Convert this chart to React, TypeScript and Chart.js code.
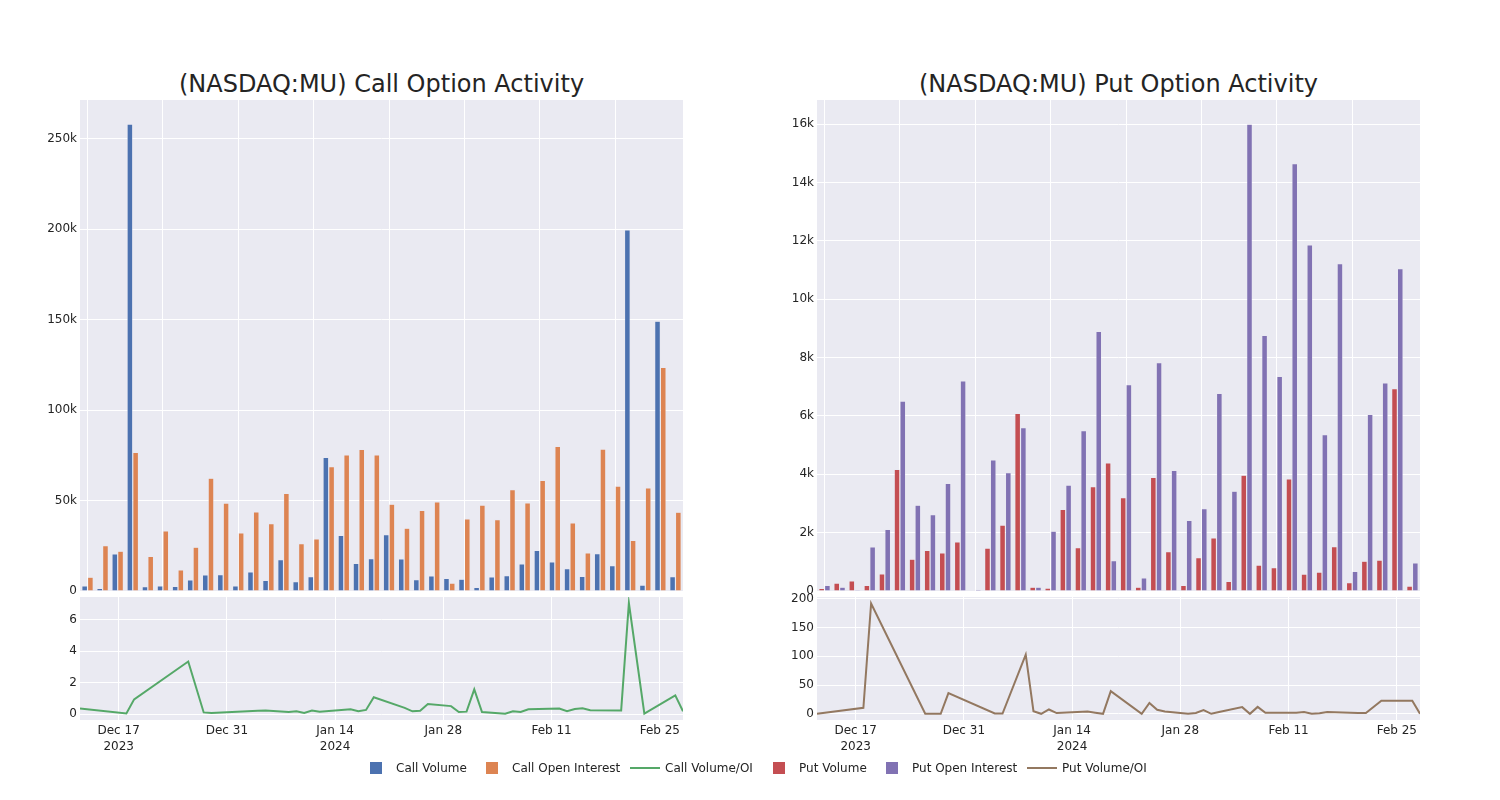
import React, { useEffect, useRef } from 'react';
import { Chart, registerables } from 'chart.js';

Chart.register(...registerables);

// ---------- data ----------
const dates = [
  '2023-12-12', '2023-12-18', '2023-12-19', '2023-12-26', '2023-12-28', '2023-12-29',
  '2024-01-04', '2024-01-05', '2024-01-08', '2024-01-09', '2024-01-10', '2024-01-11',
  '2024-01-12', '2024-01-16', '2024-01-17', '2024-01-18', '2024-01-19', '2024-01-23',
  '2024-01-24', '2024-01-25', '2024-01-26', '2024-01-29', '2024-01-30', '2024-01-31',
  '2024-02-01', '2024-02-02', '2024-02-05', '2024-02-06', '2024-02-07', '2024-02-08',
  '2024-02-12', '2024-02-13', '2024-02-14', '2024-02-15', '2024-02-16', '2024-02-20',
  '2024-02-21', '2024-02-23', '2024-02-27', '2024-02-28',
];

const callVolume = [
  2800, 1500, 20500, 258200, 2400, 2800, 2600, 6100, 8900, 9100,
  2800, 10500, 5900, 17400, 5200, 8000, 73900, 30700, 15300, 17900,
  31200, 17700, 6300, 8300, 7000, 6500, 2000, 7800, 8500, 15000,
  22500, 16100, 12400, 8100, 20700, 14000, 199700, 3300, 149200, 8000,
];
const callOpenInterest = [
  7600, 25100, 22000, 76600, 19200, 33200, 11600, 24200, 62400, 48600,
  32100, 43700, 37300, 53900, 26200, 28800, 68700, 75300, 78300, 75300,
  48000, 34700, 44500, 49300, 4400, 39900, 47500, 39500, 56000, 48700,
  61100, 80000, 37700, 21000, 78500, 58000, 28000, 57000, 123700, 43600,
];
const callVolumeOI = [
  0.37, 0.05, 0.95, 3.35, 0.12, 0.08, 0.22, 0.25, 0.14, 0.19,
  0.09, 0.24, 0.16, 0.32, 0.2, 0.28, 1.08, 0.41, 0.19, 0.23,
  0.65, 0.52, 0.15, 0.17, 1.58, 0.15, 0.04, 0.19, 0.15, 0.32,
  0.37, 0.2, 0.34, 0.39, 0.26, 0.25, 7.06, 0.05, 1.2, 0.19,
];

const putVolume = [
  90, 270, 350, 190, 590, 4170, 1090, 1390, 1310, 1680,
  20, 1470, 2260, 6090, 130, 100, 2800, 1490, 3580, 4390,
  3200, 130, 3890, 1350, 190, 1140, 1820, 330, 3970, 890,
  800, 3840, 580, 650, 1520, 290, 1020, 1060, 6940, 170,
];
const putOpenInterest = [
  190, 130, 2, 1510, 2110, 6510, 2940, 2620, 3690, 7200,
  50, 4490, 4060, 5600, 130, 2050, 3630, 5500, 8900, 1040,
  7070, 450, 7830, 4130, 2420, 2820, 6770, 3420, 16000, 8760,
  7360, 14650, 11860, 5360, 11220, 670, 6050, 7130, 11050, 960,
];
const putVolumeOI = [
  0, 10.5, 192, 0, 0, 36, 0.5, 0.5, 103, 4.6,
  0, 7.5, 1.2, 4, 2, 0, 39.5, 0, 19, 7,
  4, 0, 1.5, 6.4, 0, 3, 11.6, 0, 12, 1.7,
  1.7, 3, 0, 1, 3, 1.5, 1.5, 22.7, 22.7, 0,
];

const callBarTicks = [0, 50000, 100000, 150000, 200000, 250000];
const putBarTicks = [0, 2000, 4000, 6000, 8000, 10000, 12000, 14000, 16000];
const callRatioTicks = [0, 2, 4, 6];
const putRatioTicks = [0, 50, 100, 150, 200];
const dateTickDates = ['2023-12-17', '2023-12-31', '2024-01-14', '2024-01-28', '2024-02-11', '2024-02-25'];
const dateTickLabels: (string | string[])[] = [['Dec 17', '2023'], 'Dec 31', ['Jan 14', '2024'], 'Jan 28', 'Feb 11', 'Feb 25'];

// ---------- style ----------
const FONT = "'DejaVu Sans', sans-serif";
const TEXT = '#242424';
const BG = '#EAEAF2';
const C_BLUE = '#4C72B0';
const C_ORANGE = '#DD8452';
const C_GREEN = '#55A868';
const C_RED = '#C44E52';
const C_PURPLE = '#8172B3';
const C_BROWN = '#937860';

const dayNum = (s: string) => {
  const [y, m, d] = s.split('-').map(Number);
  return Date.UTC(y, m - 1, d) / 86400000;
};

const bgPlugin = {
  id: 'plotBg',
  beforeDraw(chart: any) {
    const { ctx, chartArea: a } = chart;
    ctx.save();
    ctx.fillStyle = BG;
    ctx.fillRect(a.left, a.top, a.right - a.left, a.bottom - a.top);
    ctx.restore();
  },
};

const fmtK = (v: any) => (Number(v) === 0 ? '0' : `${Number(v) / 1000}k`);

function barConfig(vol: number[], oi: number[], c1: string, c2: string, l1: string, l2: string, max: number, ticks: number[]) {
  return {
    type: 'bar',
    data: {
      labels: dates,
      datasets: [
        { label: l1, data: vol, backgroundColor: c1, borderColor: 'rgba(234,234,242,0.7)', borderWidth: 0.6, categoryPercentage: 0.76, barPercentage: 1 },
        { label: l2, data: oi, backgroundColor: c2, borderColor: 'rgba(234,234,242,0.7)', borderWidth: 0.6, categoryPercentage: 0.76, barPercentage: 1 },
      ],
    },
    options: {
      animation: false,
      responsive: true,
      maintainAspectRatio: false,
      layout: { padding: { top: 10, left: 0, right: 0, bottom: 0 } },
      plugins: { legend: { display: false }, tooltip: { enabled: false } },
      scales: {
        x: {
          type: 'category',
          offset: true,
          grid: { offset: false, drawTicks: false, color: (ctx: any) => (ctx.index % 5 === 0 ? '#ffffff' : 'rgba(0,0,0,0)') },
          border: { display: false },
          ticks: { display: false },
          afterFit: (s: any) => { s.height = 10; s.paddingLeft = 0; s.paddingRight = 0; },
        },
        y: {
          min: 0,
          max,
          afterBuildTicks: (s: any) => { s.ticks = ticks.map((v) => ({ value: v })); },
          ticks: { callback: fmtK, color: TEXT, font: { family: FONT, size: 12 }, padding: 3 },
          grid: { color: '#ffffff', drawTicks: false },
          border: { display: false },
          afterFit: (s: any) => { s.width = 60; s.paddingTop = 0; s.paddingBottom = 0; },
        },
      },
    },
    plugins: [bgPlugin],
  };
}

function lineConfig(values: number[], color: string, label: string, min: number, max: number, ticks: number[]) {
  return {
    type: 'line',
    data: {
      datasets: [
        {
          label,
          data: dates.map((d, i) => ({ x: dayNum(d), y: values[i] })),
          borderColor: color,
          backgroundColor: color,
          borderWidth: 2,
          pointRadius: 0,
          tension: 0,
          fill: false,
        },
      ],
    },
    options: {
      animation: false,
      responsive: true,
      maintainAspectRatio: false,
      layout: { padding: { top: 10, left: 0, right: 0, bottom: 0 } },
      plugins: { legend: { display: false }, tooltip: { enabled: false } },
      scales: {
        x: {
          type: 'linear',
          min: dayNum(dates[0]),
          max: dayNum(dates[dates.length - 1]),
          afterBuildTicks: (s: any) => { s.ticks = dateTickDates.map((d) => ({ value: dayNum(d) })); },
          ticks: {
            autoSkip: false,
            maxRotation: 0,
            color: TEXT,
            font: { family: FONT, size: 12, lineHeight: 1.35 },
            padding: 3,
            callback: (_v: any, i: number) => dateTickLabels[i],
          },
          grid: { color: '#ffffff', drawTicks: false },
          border: { display: false },
          afterFit: (s: any) => { s.height = 45; s.paddingLeft = 0; s.paddingRight = 0; },
        },
        y: {
          min,
          max,
          afterBuildTicks: (s: any) => { s.ticks = ticks.map((v) => ({ value: v })); },
          ticks: { color: TEXT, font: { family: FONT, size: 12 }, padding: 3 },
          grid: { color: '#ffffff', drawTicks: false },
          border: { display: false },
          afterFit: (s: any) => { s.width = 60; s.paddingTop = 0; s.paddingBottom = 0; },
        },
      },
    },
    plugins: [bgPlugin],
  };
}

function ChartBox({ config, left, top, width, height }: any) {
  const ref = useRef<HTMLCanvasElement>(null);
  useEffect(() => {
    const chart = new Chart(ref.current as HTMLCanvasElement, config);
    return () => chart.destroy();
  }, []);
  return (
    <div style={{ position: 'absolute', left, top, width, height }}>
      <canvas ref={ref} />
    </div>
  );
}

const legendItems = [
  { label: 'Call Volume', color: C_BLUE, kind: 'box', start: 356 },
  { label: 'Call Open Interest', color: C_ORANGE, kind: 'box', start: 472 },
  { label: 'Call Volume/OI', color: C_GREEN, kind: 'line', start: 625 },
  { label: 'Put Volume', color: C_RED, kind: 'box', start: 759 },
  { label: 'Put Open Interest', color: C_PURPLE, kind: 'box', start: 872 },
  { label: 'Put Volume/OI', color: C_BROWN, kind: 'line', start: 1022 },
];

export default function App() {
  return (
    <div style={{ position: 'absolute', left: 0, top: 0, width: 1500, height: 800, background: '#fff', fontFamily: FONT, color: TEXT }}>
      <div style={{ position: 'absolute', left: 81.5, width: 600, top: 69, lineHeight: '30px', fontSize: 24, textAlign: 'center', whiteSpace: 'nowrap' }}>
        (NASDAQ:MU) Call Option Activity
      </div>
      <div style={{ position: 'absolute', left: 818.5, width: 600, top: 69, lineHeight: '30px', fontSize: 24, textAlign: 'center', whiteSpace: 'nowrap' }}>
        (NASDAQ:MU) Put Option Activity
      </div>

      <ChartBox left={20} top={90} width={663} height={511}
        config={barConfig(callVolume, callOpenInterest, C_BLUE, C_ORANGE, 'Call Volume', 'Call Open Interest', 271500, callBarTicks)} />
      <ChartBox left={20} top={587} width={663} height={178}
        config={lineConfig(callVolumeOI, C_GREEN, 'Call Volume/OI', -0.36, 7.44, callRatioTicks)} />
      <ChartBox left={757} top={90} width={663} height={511}
        config={barConfig(putVolume, putOpenInterest, C_RED, C_PURPLE, 'Put Volume', 'Put Open Interest', 16830, putBarTicks)} />
      <ChartBox left={757} top={587} width={663} height={178}
        config={lineConfig(putVolumeOI, C_BROWN, 'Put Volume/OI', -10.8, 203.3, putRatioTicks)} />

      {legendItems.map((it) => (
        <React.Fragment key={it.label}>
          {it.kind === 'box' ? (
            <div style={{ position: 'absolute', left: it.start + 14, top: 762, width: 12, height: 12, background: it.color }} />
          ) : (
            <div style={{ position: 'absolute', left: it.start + 5, top: 767, width: 30, height: 2, background: it.color }} />
          )}
          <div style={{ position: 'absolute', left: it.start + 40, top: 758, lineHeight: '20px', fontSize: 12, whiteSpace: 'nowrap' }}>
            {it.label}
          </div>
        </React.Fragment>
      ))}
    </div>
  );
}
